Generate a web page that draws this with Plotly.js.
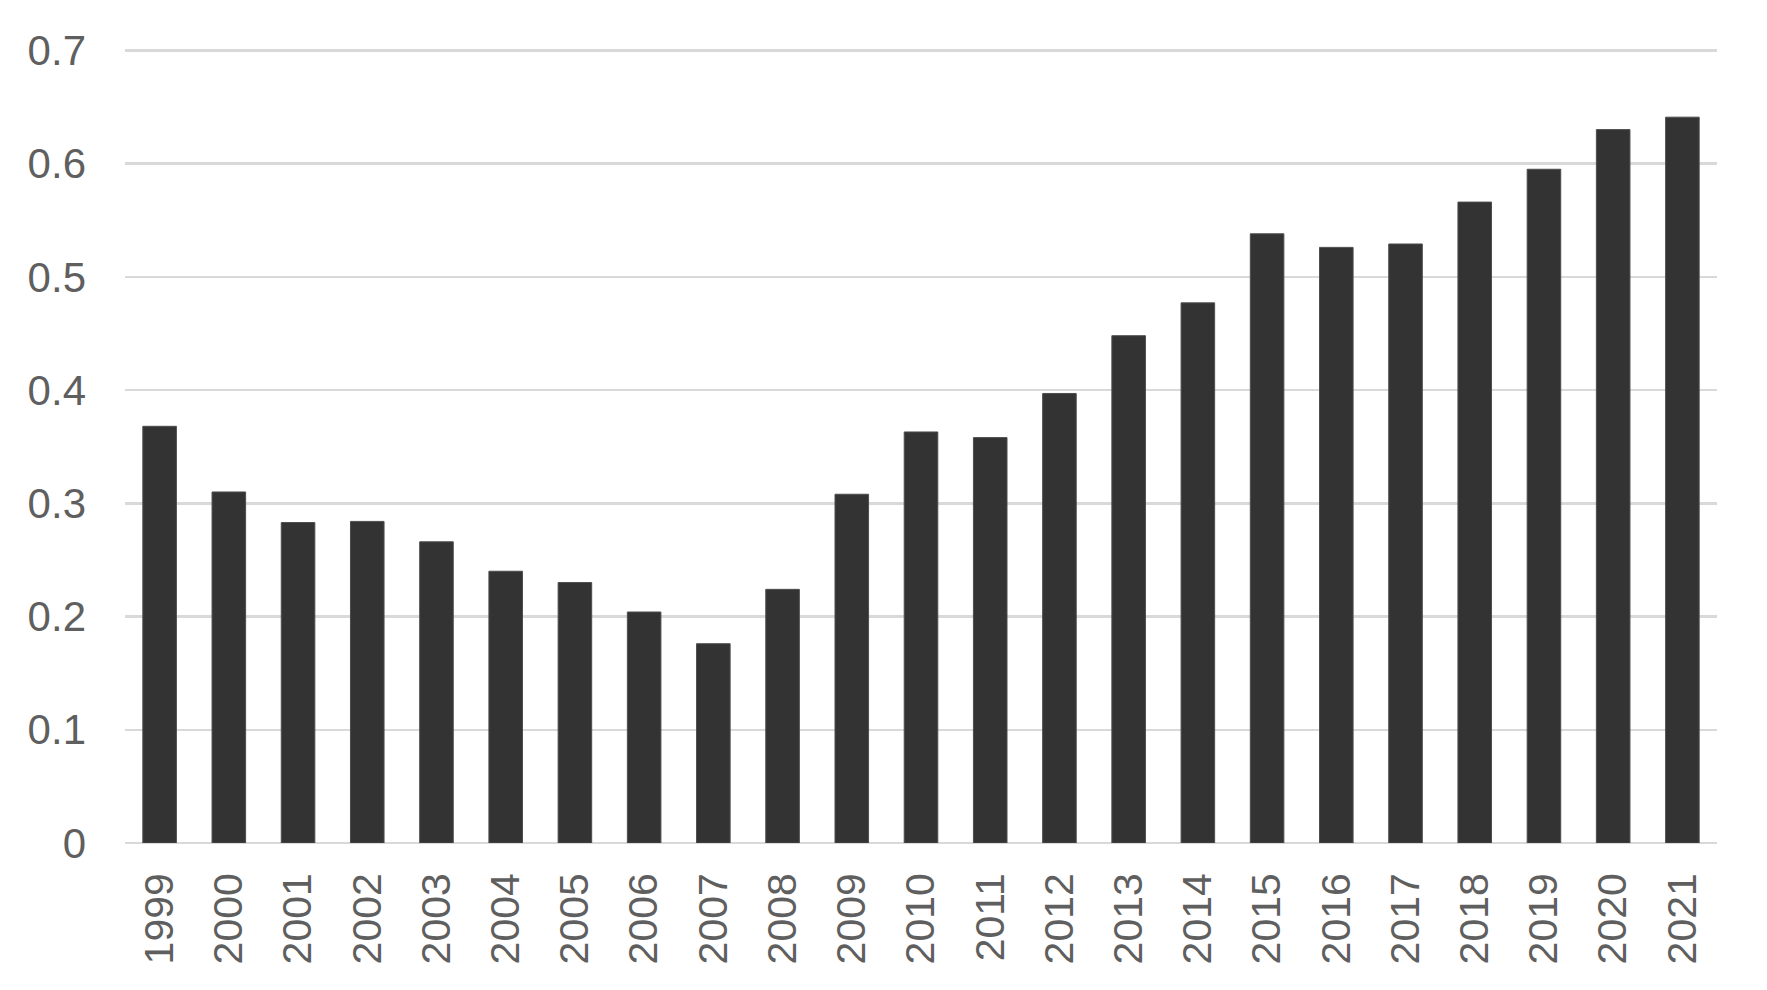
<!DOCTYPE html>
<html>
<head>
<meta charset="utf-8">
<script src="https://cdn.plot.ly/plotly-3.0.1.min.js"></script>
<style>html,body{margin:0;padding:0;background:#fff;}#chart{width:1767px;height:990px;}</style>
</head>
<body>
<div id="chart"></div>
<script>
const years = ["1999","2000","2001","2002","2003","2004","2005","2006","2007","2008","2009","2010","2011","2012","2013","2014","2015","2016","2017","2018","2019","2020","2021"];
const values = [0.368,0.310,0.283,0.284,0.266,0.240,0.230,0.204,0.176,0.224,0.308,0.363,0.358,0.397,0.448,0.477,0.538,0.526,0.529,0.566,0.595,0.630,0.641];
const yTicks = [0,0.1,0.2,0.3,0.4,0.5,0.6,0.7];
const yTickLabels = ["0","0.1","0.2","0.3","0.4","0.5","0.6","0.7"];

const fontFam = '"Liberation Sans Narrow", "Liberation Sans", sans-serif';
Plotly.newPlot('chart', [{
  type: 'bar',
  x: years,
  y: values,
  marker: {color: '#333333', line: {color: '#4d4d4d', width: 1}},
  hoverinfo: 'x+y'
}], {
  width: 1767, height: 990,
  margin: {l: 125, r: 50, t: 49, b: 147, pad: 0},
  paper_bgcolor: '#ffffff', plot_bgcolor: '#ffffff',
  bargap: 0.515,
  showlegend: false,
  font: {family: fontFam, color: '#595959', size: 42},
  xaxis: {
    type: 'category',
    tickangle: -90,
    showgrid: false,
    showline: false,
    zeroline: false,
    ticks: '',
    ticklabelstandoff: 21,
    tickfont: {family: fontFam, size: 41, color: '#5f5f5f'}
  },
  yaxis: {
    range: [0, 0.7012],
    tickvals: yTicks,
    ticktext: yTickLabels,
    showgrid: true,
    gridcolor: '#d9d9d9',
    gridwidth: 2.5,
    zeroline: true,
    zerolinecolor: '#d9d9d9',
    zerolinewidth: 2.5,
    showline: false,
    ticks: '',
    ticklabelstandoff: 38,
    tickfont: {family: fontFam, size: 42, color: '#5f5f5f'}
  }
}, {displayModeBar: false, staticPlot: true});
</script>
</body>
</html>
